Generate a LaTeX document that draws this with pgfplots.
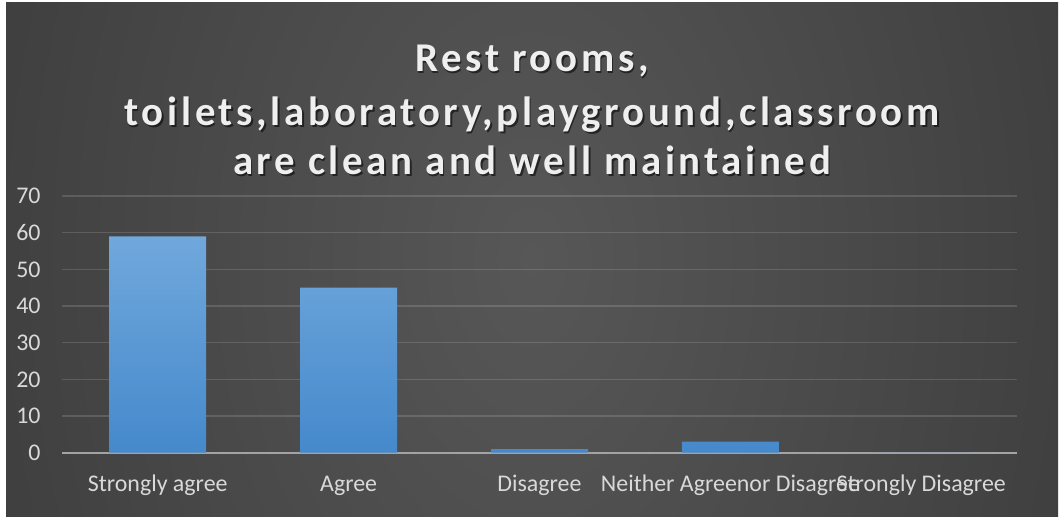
\documentclass[border=0pt]{standalone}
\usepackage{fontspec}
\setmainfont{Carlito}
\newfontfamily\titlefont[LetterSpace=9]{Carlito}
\usepackage{pgfplots}
\pgfplotsset{compat=1.18}
\definecolor{bgin}{HTML}{575757}
\definecolor{bgout}{HTML}{2A2A2A}
\definecolor{bgfar}{HTML}{222222}
\definecolor{barTop}{HTML}{70A8DC}
\definecolor{barBot}{HTML}{4589CC}
\definecolor{txt}{HTML}{D9D9D9}
\definecolor{ttl}{HTML}{EFEFEF}
\definecolor{axln}{HTML}{A3A3A3}
\pgfdeclareradialshading{bgshade}{\pgfpoint{0bp}{0bp}}{color(0bp)=(bgin); color(50bp)=(bgout); color(72bp)=(bgfar)}
\begin{document}
\begin{tikzpicture}
\useasboundingbox (0,0) rectangle (1059bp,517bp);
\fill[white] (0,0) rectangle (1059bp,517bp);
\begin{scope}
\clip (6bp,0bp) rectangle (1058bp,514bp);
\shade[shading=bgshade] (6bp,-531bp) rectangle (1058bp,1045bp);
\end{scope}
% title
\foreach \yy/\tt in {445/{Rest rooms,},391/{toilets,laboratory,playground,classroom},342/{are clean and well maintained}}{
  \node[anchor=base, inner sep=0pt, text=black, opacity=0.55] at (533.5bp,\yy bp-2bp) {\titlefont\bfseries\fontsize{41}{49}\selectfont \tt};
  \node[anchor=base, inner sep=0pt, text=ttl] at (532bp,\yy bp) {\titlefont\bfseries\fontsize{41}{49}\selectfont \tt};
}
\begin{axis}[
  at={(62.3bp,64.3bp)}, anchor=south west,
  scale only axis, width=954.4bp, height=256.7bp,
  xmin=-0.5, xmax=4.5, ymin=0, ymax=70,
  ytick={0,10,...,70},
  xtick={0,1,2,3,4},
  xticklabels={Strongly agree,Agree,Disagree,Neither Agreenor Disagree,Strongly Disagree},
  major tick length=0pt,
  axis y line*=left,
  axis x line*=bottom,
  y axis line style={draw=none},
  x axis line style={-, draw=axln, line width=2bp},
  ymajorgrids,
  grid style={draw=white, draw opacity=0.14, line width=1.6bp},
  /pgf/number format/assume math mode=true,
  ticklabel style={font=\fontsize{24}{28}\selectfont, text=txt},
  yticklabel style={anchor=east, inner sep=0pt, xshift=-21.5bp},
  xticklabel style={anchor=base, inner sep=0pt, yshift=-38.5bp},
  tick style={draw=none},
  clip=false,
]
\addplot[ybar, bar width=97bp, bar shift=0pt, draw=none, top color=barTop, bottom color=barBot]
  coordinates {(0,59) (1,45) (2,1) (3,3) (4,0)};
\end{axis}
\end{tikzpicture}
\end{document}
